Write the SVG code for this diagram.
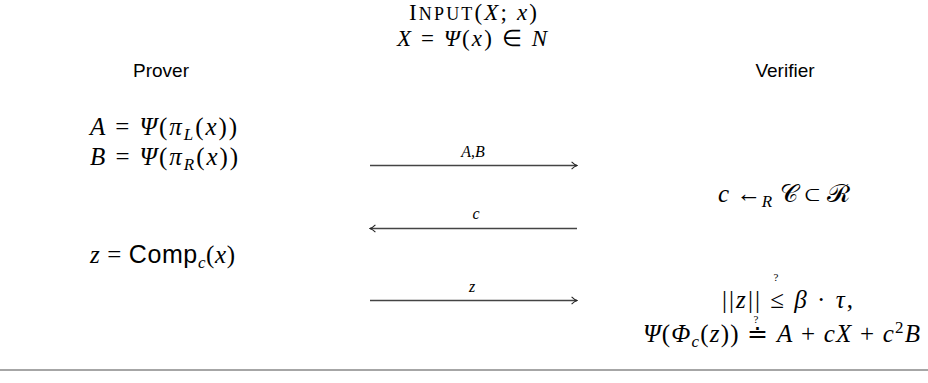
<svg xmlns="http://www.w3.org/2000/svg" width="928" height="383" viewBox="0 0 928 383">
<style>
.m{font-family:"Liberation Serif",serif;font-size:25px;fill:#000}
.t{font-family:"Liberation Serif",serif;font-size:23px;fill:#000}
.i{font-style:italic}
.s{font-family:"Liberation Sans",sans-serif;font-style:normal}
.hd{font-family:"Liberation Sans",sans-serif;font-size:19px;fill:#000}
.lab{font-family:"Liberation Serif",serif;font-size:16px;fill:#000}
.q{font-family:"Liberation Serif",serif;font-size:11px;fill:#000}
.conn{stroke:#444;stroke-width:1.5;fill:none}
.rule{stroke:#888;stroke-width:1.5}
</style>
<defs>
<marker id="ah" viewBox="0 0 10 10" refX="9" refY="5" markerWidth="9" markerHeight="9" markerUnits="userSpaceOnUse" orient="auto">
<path d="M3,1 Q6,4 9,5 Q6,6 3,9" fill="none" stroke="#222" stroke-width="1.2"/>
</marker>
</defs>

<g id="header">
<text class="t" x="473" y="20" text-anchor="middle" textLength="128"><tspan>I</tspan><tspan font-size="18">NPUT</tspan>(<tspan class="i">X</tspan>; <tspan class="i">x</tspan>)</text>
<text class="t" x="472" y="46" text-anchor="middle" textLength="150"><tspan class="i">X</tspan> = <tspan class="i">Ψ</tspan>(<tspan class="i">x</tspan>) ∈ <tspan class="i">N</tspan></text>
</g>

<g id="prover-label"><text class="hd" x="161" y="77" text-anchor="middle">Prover</text></g>
<g id="verifier-label"><text class="hd" x="785" y="77" text-anchor="middle">Verifier</text></g>

<g id="prover-commit">
<text class="m" x="90" y="135" textLength="147"><tspan class="i">A</tspan> = <tspan class="i">Ψ</tspan>(<tspan class="i">π</tspan><tspan class="i" font-size="17" dy="5">L</tspan><tspan dy="-5">(</tspan><tspan class="i">x</tspan>))</text>
<text class="m" x="90" y="165" textLength="148"><tspan class="i">B</tspan> = <tspan class="i">Ψ</tspan>(<tspan class="i">π</tspan><tspan class="i" font-size="17" dy="5">R</tspan><tspan dy="-5">(</tspan><tspan class="i">x</tspan>))</text>
</g>

<g id="verifier-challenge">
<text class="m" x="718" y="202" textLength="132"><tspan class="i">c</tspan> ←<tspan class="i" font-size="17" dy="5">R</tspan><tspan dy="-5"> 𝒞 ⊂ ℛ</tspan></text>
</g>

<g id="prover-response">
<text class="m" x="90" y="263" textLength="145"><tspan class="i">z</tspan> = <tspan class="s">Comp</tspan><tspan class="i" font-size="17" dy="5">c</tspan><tspan dy="-5">(</tspan><tspan class="i">x</tspan>)</text>
</g>

<g id="verifier-check">
<text class="m" x="722" y="308" textLength="131">||<tspan class="i">z</tspan>|| ≤ <tspan class="i">β</tspan> · <tspan class="i">τ</tspan>,</text>
<text class="q" x="776" y="281" text-anchor="middle">?</text>
<text class="m" x="643" y="342" textLength="277"><tspan class="i">Ψ</tspan>(<tspan class="i">Φ</tspan><tspan class="i" font-size="17" dy="5">c</tspan><tspan dy="-5">(</tspan><tspan class="i">z</tspan>)) ≐ <tspan class="i">A</tspan> + <tspan class="i">cX</tspan> + <tspan class="i">c</tspan><tspan font-size="17" dy="-9">2</tspan><tspan class="i" dy="9">B</tspan></text>
<text class="q" x="756" y="323" text-anchor="middle">?</text>
</g>

<g id="connectors">
<line class="conn" x1="370" y1="165.5" x2="577" y2="165.5" marker-end="url(#ah)"/>
<text class="lab" x="473" y="157" text-anchor="middle"><tspan font-style="italic">A</tspan>,<tspan font-style="italic">B</tspan></text>
<line class="conn" x1="577" y1="228.5" x2="370" y2="228.5" marker-end="url(#ah)"/>
<text class="lab" x="476" y="219" text-anchor="middle" font-style="italic">c</text>
<line class="conn" x1="370" y1="300.5" x2="577" y2="300.5" marker-end="url(#ah)"/>
<text class="lab" x="472" y="292" text-anchor="middle" font-style="italic">z</text>
</g>

<g id="rule"><line class="rule" x1="0" y1="370" x2="928" y2="370"/></g>
</svg>
